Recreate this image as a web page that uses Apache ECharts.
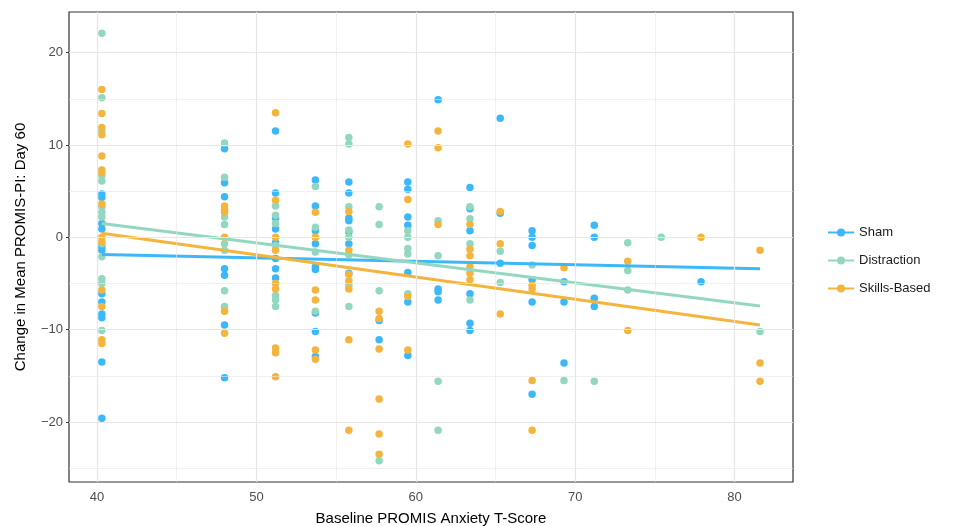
<!DOCTYPE html>
<html>
<head>
<meta charset="utf-8">
<script src="https://cdn.jsdelivr.net/npm/echarts@6/dist/echarts.min.js"></script>
<style>
  html, body { margin: 0; padding: 0; background: #fff; }
  #chart { width: 958px; height: 526px; }
</style>
</head>
<body>
<div id="chart"></div>
<script>
// group names and colours
const groups = ["Sham", "Distraction", "Skills-Based"];
const colors = ["#3CB8F9", "#93D7C1", "#F3B53E"];

// [baseline T-score, change in PROMIS-PI]
const shamPoints = [
  [40.3, 4.7], [40.3, 4.3], [40.3, 1.5], [40.3, 0.9], [40.3, -1.0], [40.3, -1.4], [40.3, -6.1], [40.3, -7.0], [40.3, -8.3], [40.3, -8.7], [40.3, -13.5], [40.3, -19.6],
  [48.0, 9.6], [48.0, 5.9], [48.0, 4.4], [48.0, -3.4], [48.0, -4.1], [48.0, -9.5], [48.0, -15.2],
  [51.2, 11.5], [51.2, 4.8], [51.2, 2.1], [51.2, 0.9], [51.2, -0.6], [51.2, -2.3], [51.2, -3.4], [51.2, -4.4],
  [53.7, 6.2], [53.7, 3.4], [53.7, 0.7], [53.7, -0.7], [53.7, -3.2], [53.7, -3.5], [53.7, -8.2], [53.7, -10.2], [53.7, -12.9],
  [55.8, 6.0], [55.8, 4.8], [55.8, 2.1], [55.8, 1.8], [55.8, 0.6], [55.8, -0.7], [55.8, -3.9],
  [57.7, -9.0], [57.7, -11.1],
  [59.5, 6.0], [59.5, 5.2], [59.5, 2.2], [59.5, 1.3], [59.5, -3.8], [59.5, -7.0], [59.5, -12.8],
  [61.4, 14.9], [61.4, -5.6], [61.4, -5.9], [61.4, -6.8],
  [63.4, 5.4], [63.4, 3.1], [63.4, 0.7], [63.4, -6.1], [63.4, -9.3], [63.4, -10.1],
  [65.3, 12.9], [65.3, 2.6], [65.3, -2.8],
  [67.3, 0.7], [67.3, 0.0], [67.3, -0.9], [67.3, -4.6], [67.3, -7.0], [67.3, -17.0],
  [69.3, -4.8], [69.3, -7.0], [69.3, -13.6],
  [71.2, 1.3], [71.2, 0.0], [71.2, -6.6], [71.2, -7.5],
  [77.9, -4.8]
];

const distractionPoints = [
  [40.3, 22.1], [40.3, 15.1], [40.3, 11.5], [40.3, 6.7], [40.3, 6.1], [40.3, 3.3], [40.3, 2.7], [40.3, 2.2], [40.3, -0.7], [40.3, -2.1], [40.3, -4.5], [40.3, -5.0], [40.3, -10.1],
  [48.0, 10.2], [48.0, 6.5], [48.0, 2.2], [48.0, 1.4], [48.0, -0.7], [48.0, -1.4], [48.0, -5.8], [48.0, -7.5],
  [51.2, 3.4], [51.2, 2.4], [51.2, 1.5], [51.2, -0.9], [51.2, -6.3], [51.2, -6.8], [51.2, -7.5],
  [53.7, 5.5], [53.7, 1.1], [53.7, -1.6], [53.7, -8.0],
  [55.8, 10.8], [55.8, 10.1], [55.8, 3.3], [55.8, 0.8], [55.8, 0.0], [55.8, -1.9], [55.8, -5.2], [55.8, -7.5],
  [57.7, 3.3], [57.7, 1.4], [57.7, -5.8], [57.7, -24.2],
  [59.5, 0.7], [59.5, 0.0], [59.5, -1.2], [59.5, -1.8], [59.5, -6.1],
  [61.4, 1.8], [61.4, -2.0], [61.4, -15.6], [61.4, -20.9],
  [63.4, 3.3], [63.4, 2.0], [63.4, -0.7], [63.4, -6.8],
  [65.3, -1.5], [65.3, -4.9],
  [67.3, -3.0],
  [69.3, -15.5],
  [71.2, -15.6],
  [73.3, -0.6], [73.3, -3.6], [73.3, -5.7],
  [75.4, 0.0],
  [81.6, -10.2]
];

const skillsPoints = [
  [40.3, 16.0], [40.3, 13.4], [40.3, 11.9], [40.3, 11.1], [40.3, 8.8], [40.3, 7.3], [40.3, 7.0], [40.3, 3.6], [40.3, 0.0], [40.3, -0.5], [40.3, -5.7], [40.3, -7.5], [40.3, -11.1], [40.3, -11.5],
  [48.0, 3.4], [48.0, 3.0], [48.0, 2.7], [48.0, 0.0], [48.0, -8.0], [48.0, -10.4],
  [51.2, 13.5], [51.2, 4.0], [51.2, 0.0], [51.2, -1.4], [51.2, -5.0], [51.2, -5.6], [51.2, -12.0], [51.2, -12.5], [51.2, -15.1],
  [53.7, 2.7], [53.7, 0.0], [53.7, -5.7], [53.7, -6.8], [53.7, -12.2], [53.7, -13.2],
  [55.8, 2.8], [55.8, -1.4], [55.8, -4.0], [55.8, -4.7], [55.8, -5.6], [55.8, -11.1], [55.8, -20.9],
  [57.7, -8.0], [57.7, -8.8], [57.7, -12.1], [57.7, -17.5], [57.7, -21.3], [57.7, -23.5],
  [59.5, 10.1], [59.5, 4.1], [59.5, -6.4], [59.5, -12.2],
  [61.4, 11.5], [61.4, 9.7], [61.4, 1.4],
  [63.4, 1.4], [63.4, -1.3], [63.4, -2.0], [63.4, -3.2], [63.4, -3.9], [63.4, -4.6],
  [65.3, 2.8], [65.3, -0.7], [65.3, -8.3],
  [67.3, -5.2], [67.3, -5.6], [67.3, -15.5], [67.3, -20.9],
  [69.3, -3.3],
  [73.3, -2.6], [73.3, -10.1],
  [77.9, 0.0],
  [81.6, -1.4], [81.6, -13.6], [81.6, -15.6]
];

// fitted line end points
const shamFit = [[40.3, -1.85], [81.6, -3.4]];
const distractionFit = [[40.3, 1.5], [81.6, -7.45]];
const skillsFit = [[40.3, 0.45], [81.6, -9.5]];

// ticks and grid
const xTicks = [40, 50, 60, 70, 80];
const xMinor = [45, 55, 65, 75];
const yTicks = [-20, -10, 0, 10, 20];
const yMinor = [-25, -15, -5, 5, 15];

const font = "Liberation Sans, Arial, sans-serif";
const minus = (v) => String(v).replace("-", "\u2212");

const chart = echarts.init(document.getElementById("chart"));

const gridLines = [];
xMinor.forEach((v) => gridLines.push({ xAxis: v, lineStyle: { width: 0.6 } }));
yMinor.forEach((v) => gridLines.push({ yAxis: v, lineStyle: { width: 0.6 } }));
xTicks.forEach((v) => gridLines.push({ xAxis: v, lineStyle: { width: 1.2 } }));
yTicks.forEach((v) => gridLines.push({ yAxis: v, lineStyle: { width: 1.2 } }));

const fits = [shamFit, distractionFit, skillsFit];
const points = [shamPoints, distractionPoints, skillsPoints];

const series = [
  {
    name: "grid",
    type: "scatter",
    data: [],
    z: 0,
    silent: true,
    markLine: {
      silent: true,
      symbol: ["none", "none"],
      label: { show: false },
      animation: false,
      lineStyle: { color: "#e6e6e6", type: "solid" },
      emphasis: { disabled: true },
      data: gridLines,
    },
  },
];

groups.forEach((g, i) => {
  series.push({
    name: g,
    type: "line",
    data: fits[i],
    z: 4,
    symbol: "circle",
    symbolSize: 8,
    showSymbol: false,
    itemStyle: { color: colors[i] },
    lineStyle: { color: colors[i], width: 3 },
    animation: false,
    silent: true,
  });
});

groups.forEach((g, i) => {
  series.push({
    name: g,
    type: "scatter",
    data: points[i],
    z: 3,
    symbolSize: 7.5,
    itemStyle: { color: colors[i], opacity: 1 },
    animation: false,
  });
});

chart.setOption({
  backgroundColor: "#fff",
  animation: false,
  grid: {
    left: 69,
    right: 165,
    top: 12,
    bottom: 44,
    outerBoundsMode: "none",
    show: true,
    borderColor: "#333",
    borderWidth: 1.2,
    backgroundColor: "#fff",
  },
  legend: {
    data: groups,
    orient: "vertical",
    left: 822,
    top: 221,
    itemWidth: 26,
    itemHeight: 10,
    itemGap: 15,
    textStyle: { fontFamily: font, fontSize: 13, color: "#1a1a1a" },
  },
  xAxis: {
    type: "value",
    min: 38.24,
    max: 83.67,
    name: "Baseline PROMIS Anxiety T-Score",
    nameLocation: "middle",
    nameGap: 29,
    nameTextStyle: { fontFamily: font, fontSize: 15, color: "#000" },
    axisLine: { show: false },
    splitLine: { show: false },
    axisTick: { show: true, customValues: xTicks, length: 3, lineStyle: { color: "#333" } },
    axisLabel: {
      customValues: xTicks,
      fontFamily: font,
      fontSize: 13,
      color: "#4d4d4d",
      margin: 9,
    },
  },
  yAxis: {
    type: "value",
    min: -26.5,
    max: 24.4,
    name: "Change in Mean PROMIS-PI: Day 60",
    nameLocation: "middle",
    nameGap: 41,
    nameTextStyle: { fontFamily: font, fontSize: 15, color: "#000" },
    axisLine: { show: false },
    splitLine: { show: false },
    axisTick: { show: true, customValues: yTicks, length: 3, lineStyle: { color: "#333" } },
    axisLabel: {
      customValues: yTicks,
      fontFamily: font,
      fontSize: 13,
      color: "#4d4d4d",
      margin: 6,
      formatter: minus,
    },
  },
  series: series,
});
</script>
</body>
</html>
